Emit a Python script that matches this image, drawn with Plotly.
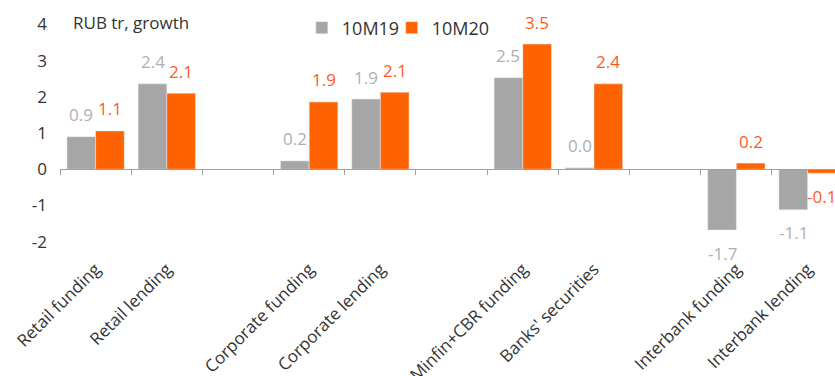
import plotly.graph_objects as go

categories = ["Retail funding", "Retail lending", " ", "Corporate funding", "Corporate lending", "  ",
              "Minfin+CBR funding", "Banks' securities", "   ", "Interbank funding", "Interbank lending"]
s_10m19 = [0.90, 2.36, None, 0.23, 1.94, None, 2.53, 0.04, None, -1.68, -1.12]
s_10m20 = [1.06, 2.10, None, 1.86, 2.13, None, 3.46, 2.36, None, 0.17, -0.11]
series_names = ["10M19", "10M20"]
y_ticks = [-2, -1, 0, 1, 2, 3, 4]
y_ticktext = ["-2", "-1", "0", "1", "2", "3", "4"]

GRAY = "#a6a6a6"
ORANGE = "#ff6200"
GRAY_TXT = "#b0b0b0"
ORANGE_TXT = "#ff5a1f"
FONT = "Open Sans"
YMIN, YMAX = -2.37, 4.18

fig = go.Figure()
fig.add_trace(go.Bar(x=categories, y=s_10m19, name=series_names[0], marker_color=GRAY, legend="legend"))
fig.add_trace(go.Bar(x=categories, y=s_10m20, name=series_names[1], marker_color=ORANGE, legend="legend2"))
# invisible trace for the zero-line axis with boundary ticks
fig.add_trace(go.Scatter(x=categories, y=[None] * len(categories), xaxis="x2", showlegend=False,
                         hoverinfo="skip", mode="markers"))

annotations = []
for vals, shift, col in [(s_10m19, -14.3, GRAY_TXT), (s_10m20, 14.3, ORANGE_TXT)]:
    for c, v in zip(categories, vals):
        if v is None:
            continue
        annotations.append(dict(x=c, y=v, xref="x", yref="y", text=f"{v:.1f}", showarrow=False,
                                xshift=shift, yshift=22 if v >= 0 else -23,
                                font=dict(family=FONT, size=17, color=col)))
annotations.append(dict(x=(71 - 60) / 775, y=1.0, xref="paper", yref="paper", xanchor="left",
                        yanchor="middle", yshift=-4, text="RUB tr, growth", showarrow=False,
                        font=dict(family=FONT, size=17, color="#333333")))

zero_pos = (0 - YMIN) / (YMAX - YMIN)
legend_style = dict(orientation="h", y=0.958, xanchor="left", yanchor="middle",
                    font=dict(family=FONT, size=18, color="#333333"), bgcolor="rgba(0,0,0,0)",
                    itemclick=False)

fig.update_layout(
    width=835, height=376,
    margin=dict(l=60, r=0, t=18, b=121, autoexpand=False),
    barmode="group", bargap=0.195, bargroupgap=0,
    plot_bgcolor="white", paper_bgcolor="white",
    font=dict(family=FONT, color="#333333"),
    annotations=annotations,
    legend=dict(x=0.312, **legend_style),
    legend2=dict(x=0.428, **legend_style),
    xaxis=dict(type="category", categoryorder="array", categoryarray=categories,
               range=[-0.5, 10.385], tickangle=-45, showline=False, ticks="", automargin=False,
               showgrid=False, tickfont=dict(family=FONT, size=17, color="#333333")),
    xaxis2=dict(type="category", categoryorder="array", categoryarray=categories, overlaying="x",
                anchor="free", position=zero_pos, range=[-0.5, 10.385], showline=True,
                linecolor="#a0a0a0", linewidth=1, ticks="outside", ticklen=5, tickcolor="#a0a0a0",
                tickson="boundaries", showticklabels=False, showgrid=False),
    yaxis=dict(range=[YMIN, YMAX], tickvals=y_ticks, ticktext=y_ticktext, showgrid=False,
               zeroline=False, showline=False, ticks="", ticklabelstandoff=12, automargin=False,
               tickfont=dict(family=FONT, size=17, color="#333333")),
)

fig.write_html("out.html")
